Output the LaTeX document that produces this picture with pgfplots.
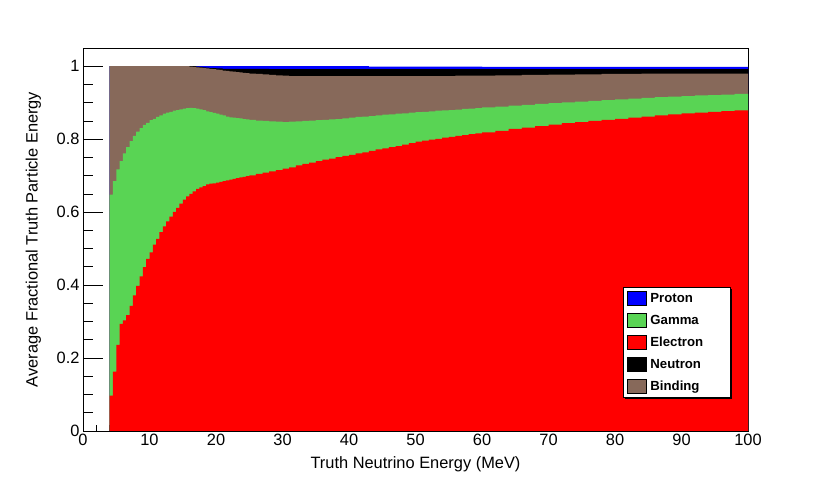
\documentclass[border=0pt]{standalone}
\usepackage{fontspec}
\setmainfont{Liberation Sans}
\usepackage{pgfplots}
\usepackage{pgfplotstable}
\pgfplotsset{compat=1.18}
\usetikzlibrary{shadows}
\definecolor{rootgreen}{RGB}{89,212,84}
\definecolor{rootbrown}{RGB}{135,105,90}
\makeatletter
\tikzset{no preactions/.code={\let\tikz@preactions\pgfutil@empty}}
\makeatother

% cumulative (stacked) heights: electron, +gamma, +binding, +neutron, +proton
\pgfplotstableread{
x    elec  gam   bind  neut  prot
4.0  0.097 0.648 1.000 1.000 1.000
4.5  0.163 0.685 1.000 1.000 1.000
5.0  0.236 0.717 1.000 1.000 1.000
5.5  0.294 0.740 1.000 1.000 1.000
6.0  0.303 0.761 1.000 1.000 1.000
6.5  0.318 0.778 1.000 1.000 1.000
7.0  0.343 0.795 1.000 1.000 1.000
7.5  0.372 0.809 1.000 1.000 1.000
8.0  0.398 0.821 1.000 1.000 1.000
8.5  0.424 0.830 1.000 1.000 1.000
9.0  0.449 0.839 1.000 1.000 1.000
9.5  0.472 0.845 1.000 1.000 1.000
10.0 0.490 0.852 1.000 1.000 1.000
10.5 0.511 0.856 1.000 1.000 1.000
11.0 0.527 0.861 1.000 1.000 1.000
11.5 0.545 0.865 1.000 1.000 1.000
12.0 0.561 0.870 1.000 1.000 1.000
12.5 0.575 0.873 1.000 1.000 1.000
13.0 0.588 0.875 1.000 1.000 1.000
13.5 0.601 0.878 1.000 1.000 1.000
14.0 0.612 0.880 1.000 1.000 1.000
14.5 0.623 0.882 1.000 1.000 1.000
15.0 0.634 0.884 1.000 1.000 1.000
15.5 0.643 0.885 1.000 1.000 1.000
16.0 0.650 0.886 0.999 1.000 1.000
16.5 0.657 0.885 0.998 1.000 1.000
17.0 0.664 0.884 0.997 0.999 1.000
17.5 0.668 0.882 0.996 0.998 1.000
18.0 0.671 0.880 0.995 0.997 1.000
18.5 0.676 0.876 0.994 0.996 1.000
19.0 0.678 0.874 0.993 0.995 1.000
19.5 0.679 0.872 0.992 0.995 1.000
20.0 0.681 0.870 0.991 0.994 1.000
20.5 0.683 0.867 0.990 0.994 1.000
21.0 0.685 0.865 0.988 0.993 1.000
21.5 0.687 0.862 0.987 0.993 1.000
22.0 0.689 0.860 0.986 0.993 1.000
22.5 0.691 0.859 0.985 0.993 1.000
23.0 0.693 0.858 0.984 0.993 1.000
23.5 0.695 0.857 0.983 0.993 1.000
24.0 0.697 0.855 0.982 0.993 1.000
24.5 0.699 0.854 0.981 0.993 1.000
25.0 0.701 0.853 0.980 0.993 1.000
26   0.705 0.851 0.979 0.993 1.000
27   0.708 0.850 0.978 0.993 1.000
28   0.712 0.849 0.976 0.992 1.000
29   0.715 0.848 0.975 0.992 1.000
30   0.719 0.847 0.974 0.992 1.000
31   0.723 0.848 0.973 0.992 1.000
32   0.728 0.849 0.973 0.992 1.000
33   0.732 0.850 0.973 0.992 1.000
34   0.736 0.851 0.973 0.992 1.000
35   0.740 0.852 0.973 0.992 1.000
36   0.744 0.853 0.973 0.992 1.000
37   0.747 0.854 0.973 0.992 1.000
38   0.751 0.855 0.973 0.992 1.000
39   0.754 0.857 0.973 0.992 1.000
40   0.757 0.859 0.973 0.992 1.000
41   0.761 0.861 0.973 0.992 1.000
42   0.764 0.862 0.973 0.992 1.000
43   0.768 0.863 0.973 0.992 0.999
44   0.772 0.865 0.973 0.992 0.999
45   0.775 0.867 0.973 0.992 0.999
46   0.778 0.868 0.973 0.992 0.999
47   0.781 0.870 0.973 0.992 0.999
48   0.785 0.871 0.973 0.992 0.999
49   0.789 0.873 0.973 0.992 0.999
50   0.793 0.874 0.973 0.992 0.999
51   0.796 0.875 0.973 0.992 0.999
52   0.799 0.876 0.973 0.992 0.999
53   0.801 0.878 0.973 0.992 0.999
54   0.804 0.879 0.973 0.992 0.999
55   0.806 0.880 0.973 0.992 0.999
56   0.809 0.881 0.974 0.992 0.999
57   0.811 0.883 0.974 0.992 0.999
58   0.814 0.884 0.974 0.992 0.999
59   0.816 0.885 0.974 0.992 0.999
60   0.819 0.887 0.974 0.992 0.998
62   0.823 0.889 0.975 0.992 0.998
64   0.828 0.892 0.975 0.992 0.998
66   0.832 0.894 0.976 0.992 0.998
68   0.836 0.897 0.976 0.992 0.998
70   0.840 0.899 0.977 0.992 0.998
72   0.844 0.901 0.977 0.992 0.998
74   0.847 0.903 0.978 0.992 0.998
76   0.850 0.905 0.978 0.992 0.998
78   0.853 0.907 0.979 0.992 0.998
80   0.856 0.909 0.979 0.992 0.998
82   0.859 0.911 0.979 0.992 0.998
84   0.862 0.913 0.980 0.992 0.998
86   0.865 0.915 0.980 0.992 0.998
88   0.868 0.917 0.980 0.992 0.998
90   0.871 0.918 0.980 0.992 0.998
92   0.873 0.920 0.980 0.992 0.998
94   0.875 0.921 0.980 0.992 0.998
96   0.877 0.922 0.980 0.992 0.998
98   0.879 0.924 0.980 0.992 0.998
100  0.880 0.925 0.980 0.992 0.998
}\datatable

\pgfplotsset{
  rootframe/.style={
    at={(83pt,48pt)}, anchor=south west,
    scale only axis, width=665pt, height=383pt,
    xmin=0, xmax=100, ymin=0, ymax=1.05,
    axis line style={black, line width=0.8pt},
    every tick/.style={black, line width=0.8pt},
    tick align=inside,
    /pgf/number format/assume math mode=true,
    tick label style={font=\fontsize{16.4}{19}\selectfont},
  }
}

\begin{document}
\begin{tikzpicture}
\useasboundingbox (0,0) rectangle (830pt,479pt);
% x ticks layer (drawn first so that the histogram covers them)
\begin{axis}[rootframe,
  ytick=\empty,
  xtick={0,10,20,30,40,50,60,70,80,90,100},
  minor x tick num=4,
  xtick pos=left,
  major tick length=11pt, minor tick length=5.5pt,
  xlabel={Truth Neutrino Energy (MeV)},
  every axis x label/.style={at={([yshift=-37.3pt]axis description cs:0.5,0)}, anchor=base, font=\fontsize{16.4}{19}\selectfont},
]
\end{axis}
% main layer
\begin{axis}[rootframe,
  xtick=\empty,
  ytick={0,0.2,0.4,0.6,0.8,1},
  minor y tick num=3,
  ytick pos=left,
  major tick length=20pt, minor tick length=10pt,
  ylabel={Average Fractional Truth Particle Energy},
  every axis y label/.style={at={([xshift=-45.3pt]axis description cs:0,0.5)}, rotate=90, anchor=base, font=\fontsize{16.4}{19}\selectfont},
  legend image code/.code={\fill[no preactions, #1] (0pt,-7pt) rectangle (18.5pt,7pt);},
  legend style={at={(0.8116,0.3752)}, anchor=north west,
    draw=black, line width=0.8pt, fill=white,
    inner xsep=4pt, inner ysep=0pt, row sep=0pt,
    cells={anchor=west},
    nodes={inner xsep=4pt, inner ysep=0pt, text width=72pt, minimum height=22pt},
    font=\fontsize{13.2}{15}\selectfont\bfseries,
    general shadow={fill=black, shadow xshift=1.5pt, shadow yshift=-1.5pt}},
]
\addplot[const plot mark left, fill=blue, draw=none, forget plot] table[x=x, y=prot] {\datatable} \closedcycle;
\addplot[const plot mark left, fill=black, draw=none, forget plot] table[x=x, y=neut] {\datatable} \closedcycle;
\addplot[const plot mark left, fill=rootbrown, draw=none, forget plot] table[x=x, y=bind] {\datatable} \closedcycle;
\addplot[const plot mark left, fill=rootgreen, draw=none, forget plot] table[x=x, y=gam] {\datatable} \closedcycle;
\addplot[const plot mark left, fill=red, draw=none, forget plot] table[x=x, y=elec] {\datatable} \closedcycle;
\addlegendimage{fill=blue}
\addlegendentry{Proton}
\addlegendimage{fill=rootgreen}
\addlegendentry{Gamma}
\addlegendimage{fill=red}
\addlegendentry{Electron}
\addlegendimage{fill=black}
\addlegendentry{Neutron}
\addlegendimage{fill=rootbrown}
\addlegendentry{Binding}
\end{axis}
\end{tikzpicture}
\end{document}
